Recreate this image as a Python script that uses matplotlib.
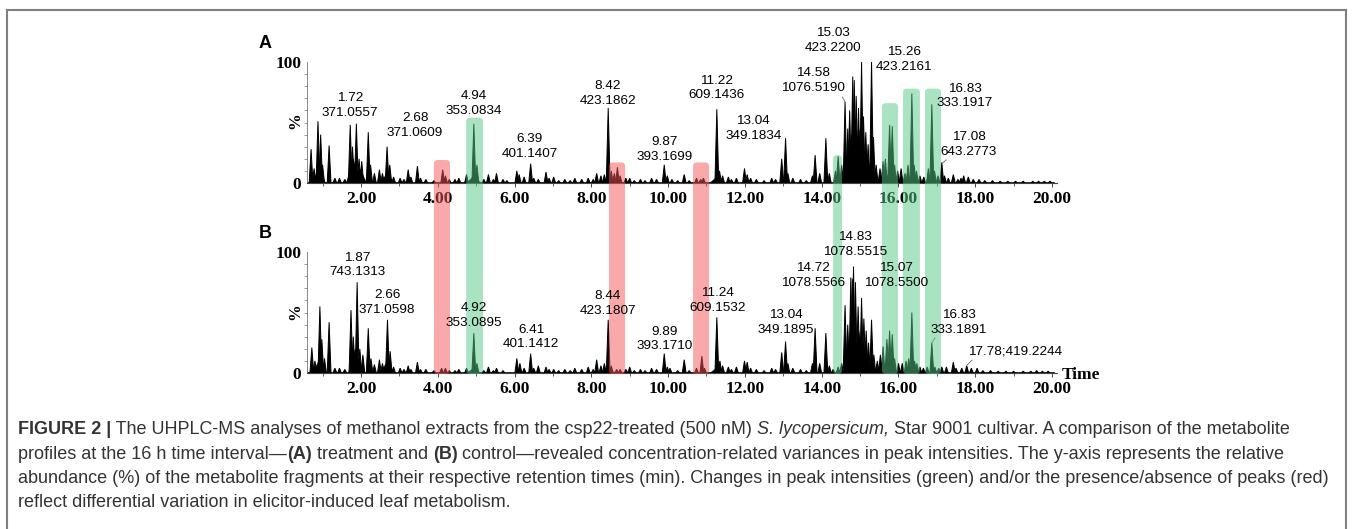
import matplotlib
matplotlib.use("Agg")
import matplotlib.pyplot as plt
from matplotlib.patches import FancyBboxPatch
from matplotlib.transforms import IdentityTransform

# ---------------- data ----------------
# Panel A (treatment): narrow peaks, retention time (min) / relative abundance (%)
a_peak_t = [0.70, 0.78, 0.88, 0.95, 1.00, 1.17, 1.32, 1.44, 1.58, 1.72, 1.78, 1.88, 1.95, 2.02,
            2.19, 2.25, 2.35, 2.48, 2.56, 2.68, 2.75, 2.85, 3.02, 3.12, 3.23, 3.30, 3.47, 3.55,
            3.69, 3.90, 4.13, 4.20, 4.30, 4.45, 4.55, 4.75, 4.94, 5.02, 5.20, 5.32, 5.45, 5.53,
            5.70, 5.80, 6.06, 6.12, 6.25, 6.42, 6.50, 6.62, 6.82, 6.90, 7.02, 7.15, 7.31, 7.45,
            7.57, 7.75, 7.92, 8.05, 8.14, 8.25, 8.34, 8.44, 8.52, 8.60, 8.68, 8.75, 8.90, 9.00,
            9.12, 9.28, 9.40, 9.57, 9.70, 9.90, 9.98, 10.10, 10.25, 10.42, 10.55, 10.74, 10.85,
            10.92, 11.27, 11.34, 11.42, 11.57, 11.65, 11.78, 11.99, 12.06, 12.15, 12.30, 12.50,
            12.70, 12.80, 12.96, 13.06, 13.12, 13.25, 13.45, 13.60, 13.76, 13.83, 13.95, 14.11,
            14.20, 14.36, 14.43, 14.52, 14.61, 14.68, 14.73, 14.81, 14.85, 14.90, 14.96, 15.04,
            15.09, 15.15, 15.21, 15.30, 15.35, 15.42, 15.52, 15.60, 15.66, 15.77, 15.84, 15.90,
            15.98, 16.07, 16.17, 16.25, 16.35, 16.41, 16.47, 16.56, 16.66, 16.78, 16.87, 16.94,
            17.03, 17.13, 17.20, 17.30, 17.43, 17.55, 17.63, 17.70, 17.82, 17.95, 18.10, 18.25,
            18.45, 18.65, 18.85, 19.05, 19.25, 19.50, 19.65, 19.80, 19.95]
a_peak_h = [28, 12, 51, 40, 15, 31, 4, 4, 3, 48, 30, 49, 20, 18,
            42, 15, 8, 11, 8, 30, 15, 5, 4, 3, 11, 5, 14, 4,
            3, 2, 11, 6, 3, 3, 4, 7, 49, 15, 3, 7, 3, 8,
            3, 2, 10, 7, 5, 16, 4, 3, 9, 4, 5, 2, 3, 2,
            4, 3, 4, 3, 8, 6, 7, 62, 10, 8, 13, 6, 4, 4,
            2, 3, 2, 4, 3, 15, 6, 3, 2, 7, 2, 4, 3,
            4, 61, 10, 6, 5, 3, 4, 12, 7, 4, 3, 2,
            4, 3, 20, 37, 8, 4, 3, 2, 6, 23, 8, 37,
            8, 10, 22, 15, 67, 45, 60, 88, 85, 72, 62, 100,
            55, 42, 32, 101, 38, 15, 12, 18, 20, 48, 47, 15,
            10, 12, 8, 15, 74, 15, 10, 6, 5, 12, 65, 10,
            6, 17, 6, 4, 7, 3, 4, 6, 5, 3, 3, 2,
            2, 1.5, 1.5, 1.5, 1.5, 1.5, 1.5, 1.5, 1.5]
# Panel A: broad bases under the peak clusters
a_hump_t = [0.90, 1.80, 1.97, 2.68, 4.94, 8.44, 11.27, 14.78, 14.97, 15.17, 15.75, 16.35]
a_hump_h = [12, 20, 12, 8, 6, 5, 5, 40, 45, 25, 8, 6]

# Panel B (control)
b_peak_t = [0.72, 0.80, 0.93, 0.98, 1.05, 1.17, 1.32, 1.44, 1.58, 1.74, 1.80, 1.90, 1.97, 2.05,
            2.19, 2.26, 2.35, 2.48, 2.56, 2.69, 2.76, 2.85, 3.02, 3.12, 3.23, 3.30, 3.47, 3.55,
            3.69, 3.90, 4.10, 4.20, 4.30, 4.45, 4.55, 4.75, 4.94, 5.02, 5.20, 5.32, 5.45, 5.53,
            5.70, 6.06, 6.14, 6.25, 6.42, 6.50, 6.62, 6.82, 6.90, 7.02, 7.15, 7.31, 7.45, 7.57,
            7.75, 7.92, 8.05, 8.14, 8.25, 8.34, 8.44, 8.52, 8.66, 8.75, 8.90, 9.00, 9.12, 9.28,
            9.40, 9.57, 9.70, 9.90, 9.98, 10.05, 10.25, 10.42, 10.55, 10.74, 10.88, 10.95, 11.27,
            11.35, 11.42, 11.57, 11.65, 11.78, 11.99, 12.06, 12.15, 12.30, 12.50, 12.70, 12.80,
            12.96, 13.06, 13.12, 13.25, 13.45, 13.60, 13.76, 13.83, 13.95, 14.11, 14.20, 14.30,
            14.43, 14.52, 14.61, 14.68, 14.76, 14.80, 14.83, 14.88, 14.95, 15.04, 15.10, 15.16,
            15.22, 15.30, 15.36, 15.45, 15.53, 15.60, 15.70, 15.77, 15.84, 15.90, 16.00, 16.10,
            16.20, 16.27, 16.35, 16.42, 16.48, 16.56, 16.65, 16.75, 16.87, 16.95, 17.05, 17.13,
            17.25, 17.43, 17.50, 17.65, 17.78, 17.90, 18.05, 18.20, 18.40, 18.60, 18.80, 19.00,
            19.25, 19.45, 19.60, 19.75, 19.90]
b_peak_h = [21, 10, 55, 28, 12, 42, 4, 4, 3, 52, 30, 75, 20, 15,
            37, 12, 7, 11, 8, 44, 18, 5, 4, 3, 6, 3, 9, 3,
            3, 2, 4, 4, 2, 2, 3, 4, 33, 8, 2, 5, 2, 4,
            2, 12, 8, 4, 16, 4, 6, 5, 3, 3, 2, 3, 2, 4,
            3, 5, 3, 11, 6, 8, 44, 6, 3, 3, 3, 5, 2, 3,
            2, 4, 3, 16, 5, 4, 2, 11, 2, 4, 14, 4, 46,
            10, 6, 5, 3, 5, 10, 9, 4, 3, 2, 4, 3,
            17, 26, 8, 4, 3, 2, 8, 37, 8, 33, 6, 3,
            5, 8, 56, 40, 79, 78, 88, 75, 55, 62, 45, 35,
            25, 44, 15, 10, 15, 22, 28, 35, 32, 12, 8, 8,
            10, 12, 50, 10, 8, 5, 4, 5, 25, 5, 4, 5,
            5, 9, 4, 4, 6, 4, 4, 2, 2, 1.5, 1.5, 1.5,
            1.5, 1.5, 2, 1.5, 1.5]
b_hump_t = [0.93, 1.85, 2.69, 4.94, 8.44, 11.27, 14.80, 14.97, 15.70, 16.30]
b_hump_h = [12, 20, 10, 4, 4, 4, 50, 35, 8, 5]

# peak labels: (x, y) in time / % units, text
a_labels = [(1.72, 64, "1.72\n371.0557"), (3.41, 47.5, "2.68\n371.0609"),
            (4.94, 65.7, "4.94\n353.0834"), (6.40, 30.2, "6.39\n401.1407"),
            (8.43, 74, "8.42\n423.1862"), (9.92, 27.7, "9.87\n393.1699"),
            (11.25, 78.5, "11.22\n609.1436"), (12.22, 45, "13.04\n349.1834"),
            (13.77, 84.7, "14.58\n1076.5190"), (14.30, 118, "15.03\n423.2200"),
            (16.14, 102, "15.26\n423.2161"), (17.73, 72, "16.83\n333.1917"),
            (17.84, 31.8, "17.08\n643.2773")]
b_labels = [(1.90, 89.3, "1.87\n743.1313"), (2.68, 58.3, "2.66\n371.0598"),
            (4.94, 47.5, "4.92\n353.0895"), (6.43, 29.8, "6.41\n401.1412"),
            (8.43, 57.4, "8.44\n423.1807"), (9.92, 28.1, "9.89\n393.1710"),
            (11.28, 59.9, "11.24\n609.1532"), (13.07, 41.7, "13.04\n349.1895"),
            (13.77, 80.6, "14.72\n1078.5566"), (14.87, 106, "14.83\n1078.5515"),
            (15.93, 80.6, "15.07\n1078.5500"), (17.58, 41.7, "16.83\n333.1891"),
            (19.04, 17.4, "17.78;419.2244")]
a_leaders = [((14.54, 71), (14.61, 67)), ((17.24, 19), (17.13, 16))]
b_leaders = [((17.92, 10.7), (17.79, 6.6)), ((16.95, 29), (16.87, 25))]

# highlighted regions: start, end (min), top of band in panel A (%), kind
band_t0 = [3.90, 4.74, 8.46, 10.65, 14.30, 15.57, 16.12, 16.69]
band_t1 = [4.32, 5.18, 8.88, 11.07, 14.53, 15.99, 16.56, 17.11]
band_top = [19, 54, 17, 17, 23, 66, 78, 78]
band_kind = ["red", "green", "red", "red", "green", "green", "green", "green"]

xticks = [2, 4, 6, 8, 10, 12, 14, 16, 18, 20]

caption = [
    [("FIGURE 2 |", "bold", "normal"),
     (" The UHPLC-MS analyses of methanol extracts from the csp22-treated (500 nM) ", "normal", "normal"),
     ("S. lycopersicum,", "normal", "italic"),
     (" Star 9001 cultivar. A comparison of the metabolite", "normal", "normal")],
    [("profiles at the 16 h time interval\u2014", "normal", "normal"), ("(A)", "bold", "normal"),
     (" treatment and ", "normal", "normal"), ("(B)", "bold", "normal"),
     (" control\u2014revealed concentration-related variances in peak intensities. The y-axis represents the relative",
      "normal", "normal")],
    [("abundance (%) of the metabolite fragments at their respective retention times (min). "
      "Changes in peak intensities (green) and/or the presence/absence of peaks (red)", "normal", "normal")],
    [("reflect differential variation in elicitor-induced leaf metabolism.", "normal", "normal")],
]

# ---------------- drawing ----------------
W, H, DPI = 1360, 529, 100
SERIF = "Liberation Serif"
SANS = "Liberation Sans"
band_colors = {"red": (0.96, 0.33, 0.33), "green": (0.33, 0.79, 0.53)}

fig = plt.figure(figsize=(W / DPI, H / DPI), dpi=DPI)


def px_axes(x0, y_base, x1, y_top):
    return fig.add_axes([x0 / W, (H - y_base) / H, (x1 - x0) / W, (y_base - y_top) / H])


def draw_trace(ax, pt, ph, ht, hh):
    for t, h in zip(ht, hh):
        ax.fill([t - 0.18, t, t + 0.18], [0, h, 0], color="black", lw=0.3, zorder=2)
    for t, h in zip(pt, ph):
        ax.fill([t - 0.05, t, t + 0.05], [0, h, 0], color="black", lw=0.7, zorder=2)
    ax.plot([0.62, 20.05], [0.4, 0.4], color="black", lw=1.2, zorder=2)


def style_axes(ax):
    ax.set_xlim(0.594, 20.209)
    ax.set_ylim(0, 100)
    ax.patch.set_visible(False)
    for s in ("top", "right"):
        ax.spines[s].set_visible(False)
    ax.spines["left"].set_bounds(0, 100)
    ax.spines["bottom"].set_bounds(0.6, 20.12)
    ax.spines["left"].set_color("#888888")
    ax.spines["bottom"].set_color("#444444")
    ax.spines["left"].set_linewidth(0.7)
    ax.spines["bottom"].set_linewidth(0.8)
    ax.set_xticks(xticks)
    ax.set_xticklabels([f"{v:.2f}" for v in xticks], fontfamily=SERIF,
                       fontweight="bold", fontsize=12.5)
    ax.set_xticks(range(1, 21, 2), minor=True)
    ax.set_yticks([0, 100])
    ax.set_yticklabels(["0", "100"], fontfamily=SERIF, fontweight="bold", fontsize=12.5)
    ax.set_yticks(range(10, 100, 10), minor=True)
    ax.tick_params(axis="x", which="major", length=3, width=0.7, pad=3, color="#444444")
    ax.tick_params(axis="x", which="minor", length=2, width=0.6, color="#444444")
    ax.tick_params(axis="y", which="major", length=0, pad=4)
    ax.tick_params(axis="y", which="minor", length=2, width=0.6, color="#888888")


axA = px_axes(307, 183, 1060, 62)
axB = px_axes(307, 373, 1060, 252)
for ax, pt, ph, ht, hh in ((axA, a_peak_t, a_peak_h, a_hump_t, a_hump_h),
                           (axB, b_peak_t, b_peak_h, b_hump_t, b_hump_h)):
    style_axes(ax)
    draw_trace(ax, pt, ph, ht, hh)

# highlight bands spanning both panels
for t0, t1, top, kind in zip(band_t0, band_t1, band_top, band_kind):
    x0 = axA.transData.transform((t0, 0))[0]
    x1 = axA.transData.transform((t1, 0))[0]
    y1 = axA.transData.transform((0, top))[1]
    y0 = axB.transData.transform((0, 0))[1] - 1
    fig.patches.append(FancyBboxPatch(
        (x0 / DPI, y0 / DPI), (x1 - x0) / DPI, (y1 - y0) / DPI,
        boxstyle="round,pad=0,rounding_size=0.04", transform=fig.dpi_scale_trans,
        facecolor=band_colors[kind], edgecolor="none", alpha=0.5, zorder=2, figure=fig))

# peak labels and leader lines
for ax, labels, leaders in ((axA, a_labels, a_leaders), (axB, b_labels, b_leaders)):
    for x, y, s in labels:
        fig.text(x, y, s, transform=ax.transData, ha="center", va="center",
                 fontfamily=SANS, fontsize=9.7, linespacing=1.3, zorder=4)
    for (xa, ya), (xb, yb) in leaders:
        ax.plot([xa, xb], [ya, yb], color="#666666", lw=0.6, zorder=3, clip_on=False)

# panel letters, axis titles
for letter, y in (("A", 43), ("B", 233)):
    fig.text(265 / W, 1 - y / H, letter, fontfamily=SANS, fontweight="bold",
             fontsize=13, ha="center", va="center")
for y in (121, 312):
    fig.text(295 / W, 1 - y / H, "%", fontfamily=SERIF, fontweight="bold",
             fontsize=12, rotation=90, ha="center", va="center")
fig.text(1062 / W, 1 - 375 / H, "Time", fontfamily=SERIF, fontweight="bold",
         fontsize=12.5, ha="left", va="center")

# caption frame
frame = "#808080"
fig.add_artist(plt.Line2D([7 / W, 1346 / W], [1 - 10 / H, 1 - 10 / H], color=frame, lw=1.5))
fig.add_artist(plt.Line2D([7 / W, 7 / W], [0, 1 - 10 / H], color=frame, lw=1.5))
fig.add_artist(plt.Line2D([1346 / W, 1346 / W], [0, 1 - 10 / H], color=frame, lw=1.5))

# caption with mixed bold / italic runs
renderer = fig.canvas.get_renderer()
cap_font = ["Liberation Sans", "DejaVu Sans"]
for i, line in enumerate(caption):
    x = 18
    y = H - (430 + 24.3 * i)
    for s, weight, style in line:
        t = fig.text(x, y, s, transform=IdentityTransform(), fontfamily=cap_font,
                     fontsize=13, fontweight=weight, fontstyle=style,
                     color="#333333", va="center", ha="left")
        x += t.get_window_extent(renderer).width

fig.savefig("out.png", dpi=DPI)
